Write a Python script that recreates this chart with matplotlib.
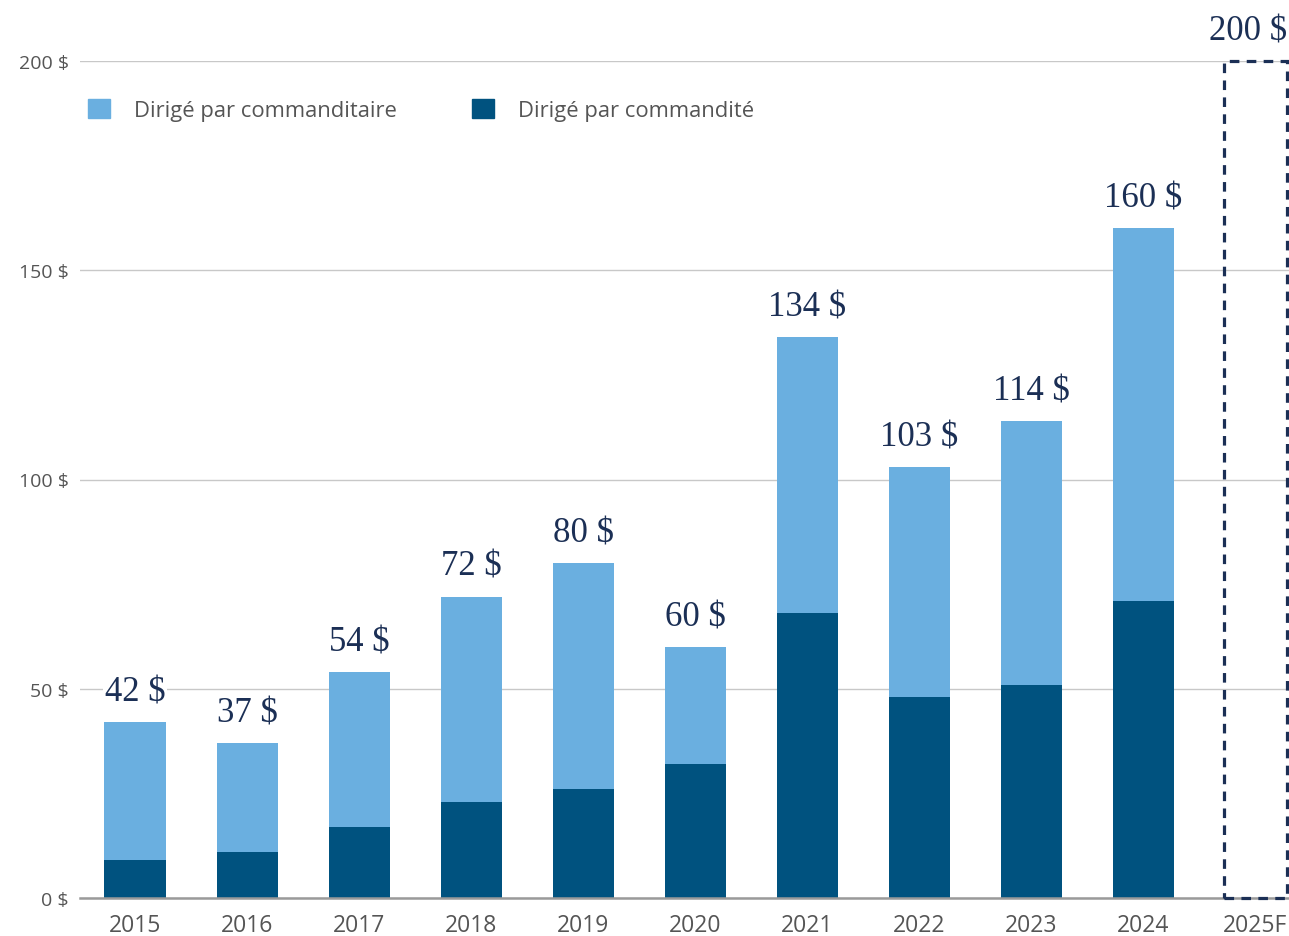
import matplotlib.pyplot as plt
from matplotlib.patches import Patch, Rectangle

# données (milliards $)
annees = ['2015', '2016', '2017', '2018', '2019', '2020', '2021', '2022', '2023', '2024', '2025F']
commandite = [9, 11, 17, 23, 26, 32, 68, 48, 51, 71]
total = [42, 37, 54, 72, 80, 60, 134, 103, 114, 160]
prevision = 200
yticks = [0, 50, 100, 150, 200]

commanditaire = [t - c for t, c in zip(total, commandite)]

clair = '#6aafe0'
fonce = '#00527f'
marine = '#1b2f55'
gris = '#555555'
police = 'Open Sans'

W, H = 1289, 937
fig = plt.figure(figsize=(W / 100, H / 100), dpi=100)
ax = fig.add_axes([80 / W, 38 / H, (W - 80) / W, 837 / H])

x = list(range(len(total)))
ax.bar(x, commandite, width=0.545, color=fonce, zorder=2)
ax.bar(x, commanditaire, bottom=commandite, width=0.545, color=clair, zorder=2)

# etiquettes au-dessus des barres
for i, t in enumerate(total):
    ax.annotate('{} $'.format(t), (i, t), xytext=(0, 10), textcoords='offset points',
                ha='center', va='bottom', fontsize=25, color=marine,
                family='Liberation Serif', zorder=3,
                bbox=dict(facecolor='white', edgecolor='none', pad=1))

# boite en pointillé pour la prévision
i25 = len(total)
rect = Rectangle((i25 - 0.28, 0), 0.56, prevision, fill=False, edgecolor=marine,
                 linewidth=2.3, linestyle=(0, (3, 2.3)), clip_on=False, zorder=5)
ax.add_patch(rect)
ax.annotate('{} $'.format(prevision), (i25, prevision), xytext=(-5, 10),
            textcoords='offset points', ha='center', va='bottom', fontsize=25,
            color=marine, family='Liberation Serif')

ax.set_xlim(-0.491, 10.30)
ax.set_ylim(0, 200)
ax.set_xticks(range(len(annees)))
ax.set_xticklabels(annees)
ax.set_yticks(yticks)
ax.set_yticklabels(['{} $'.format(v) for v in yticks])
ax.tick_params(axis='x', length=0, pad=11, labelsize=16.5, labelcolor=gris)
ax.tick_params(axis='y', length=0, pad=8, labelsize=14, labelcolor=gris)
for lab in ax.get_xticklabels() + ax.get_yticklabels():
    lab.set_family(police)

ax.grid(axis='y', color='#c8c8c8', linewidth=1, zorder=0)
ax.set_axisbelow(True)
for s in ['top', 'right', 'left']:
    ax.spines[s].set_visible(False)
ax.spines['bottom'].set_color('#9a9a9a')
ax.spines['bottom'].set_linewidth(1.8)
ax.spines['bottom'].set_zorder(2.5)

handles = [Patch(color=clair, label='Dirigé par commanditaire'),
           Patch(color=fonce, label='Dirigé par commandité')]
fig.legend(handles=handles, loc='center left', bbox_to_anchor=(88 / W, 1 - 111 / H),
           ncol=2, frameon=False, prop={'family': police, 'size': 15.8},
           labelcolor=gris, handlelength=1.0, handleheight=1.0,
           handletextpad=1.1, columnspacing=3.4, borderpad=0, borderaxespad=0)

fig.savefig('out.png', dpi=100, facecolor='white')
